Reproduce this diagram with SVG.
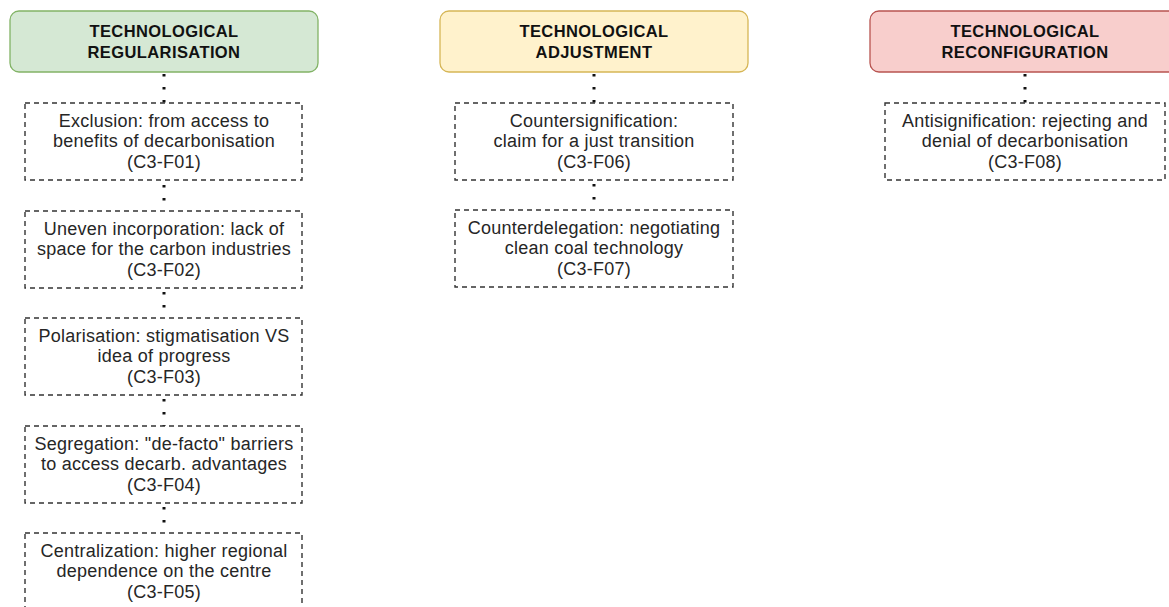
<svg xmlns="http://www.w3.org/2000/svg" width="1169" height="607" viewBox="0 0 1169 607">
  <style>
    .hdr { stroke-width: 1.3; }
    .hdr-green { fill: #d5e8d4; stroke: #82b366; }
    .hdr-yellow { fill: #fff2cc; stroke: #d6b656; }
    .hdr-red { fill: #f8cecc; stroke: #b85450; }
    .hdr-text { font-family: "Liberation Sans", Arial, sans-serif; font-size: 16.5px; font-weight: bold; fill: #111; text-anchor: middle; letter-spacing: 0.4px; }
    .item { fill: #ffffff; stroke: #333; stroke-width: 1.4; stroke-dasharray: 5 4; }
    .item-text { font-family: "Liberation Sans", Arial, sans-serif; font-size: 18px; fill: #262626; text-anchor: middle; letter-spacing: 0.25px; }
    .link { fill: none; stroke: #111; stroke-width: 3; stroke-dasharray: 2.5 10.5; }
  </style>
  <rect width="1169" height="607" fill="#ffffff"/>

  <!-- dotted connectors -->
  <g id="connectors">
    <path class="link" d="M164 74 V103"/>
    <path class="link" d="M164 185 V211"/>
    <path class="link" d="M164 292 V318"/>
    <path class="link" d="M164 399 V426"/>
    <path class="link" d="M164 507 V533"/>
    <path class="link" d="M594 74 V103"/>
    <path class="link" d="M594 184 V210"/>
    <path class="link" d="M1025 74 V103"/>
  </g>

  <!-- column headers -->
  <g id="hdr-regularisation">
    <rect class="hdr hdr-green" x="10" y="11" width="308" height="61" rx="9"/>
    <text class="hdr-text" x="164" y="37">TECHNOLOGICAL</text>
    <text class="hdr-text" x="164" y="58">REGULARISATION</text>
  </g>
  <g id="hdr-adjustment">
    <rect class="hdr hdr-yellow" x="440" y="11" width="308" height="61" rx="9"/>
    <text class="hdr-text" x="594" y="37">TECHNOLOGICAL</text>
    <text class="hdr-text" x="594" y="58">ADJUSTMENT</text>
  </g>
  <g id="hdr-reconfiguration">
    <rect class="hdr hdr-red" x="870" y="11" width="308" height="61" rx="9"/>
    <text class="hdr-text" x="1025" y="37">TECHNOLOGICAL</text>
    <text class="hdr-text" x="1025" y="58">RECONFIGURATION</text>
  </g>

  <!-- regularisation items -->
  <g id="c3-f01">
    <rect class="item" x="25" y="103" width="277" height="77"/>
    <text class="item-text" x="164" y="126.5">Exclusion: from access to</text>
    <text class="item-text" x="164" y="147">benefits of decarbonisation</text>
    <text class="item-text" x="164" y="167.5">(C3-F01)</text>
  </g>
  <g id="c3-f02">
    <rect class="item" x="25" y="211" width="277" height="77"/>
    <text class="item-text" x="164" y="234.5">Uneven incorporation: lack of</text>
    <text class="item-text" x="164" y="255">space for the carbon industries</text>
    <text class="item-text" x="164" y="275.5">(C3-F02)</text>
  </g>
  <g id="c3-f03">
    <rect class="item" x="25" y="318" width="277" height="77"/>
    <text class="item-text" x="164" y="341.5">Polarisation: stigmatisation VS</text>
    <text class="item-text" x="164" y="362">idea of progress</text>
    <text class="item-text" x="164" y="382.5">(C3-F03)</text>
  </g>
  <g id="c3-f04">
    <rect class="item" x="25" y="426" width="277" height="77"/>
    <text class="item-text" x="164" y="449.5">Segregation: "de-facto" barriers</text>
    <text class="item-text" x="164" y="470">to access decarb. advantages</text>
    <text class="item-text" x="164" y="490.5">(C3-F04)</text>
  </g>
  <g id="c3-f05">
    <rect class="item" x="25" y="533" width="277" height="77"/>
    <text class="item-text" x="164" y="556.5">Centralization: higher regional</text>
    <text class="item-text" x="164" y="577">dependence on the centre</text>
    <text class="item-text" x="164" y="597.5">(C3-F05)</text>
  </g>

  <!-- adjustment items -->
  <g id="c3-f06">
    <rect class="item" x="455" y="103" width="278" height="77"/>
    <text class="item-text" x="594" y="126.5">Countersignification:</text>
    <text class="item-text" x="594" y="147">claim for a just transition</text>
    <text class="item-text" x="594" y="167.5">(C3-F06)</text>
  </g>
  <g id="c3-f07">
    <rect class="item" x="455" y="210" width="278" height="77"/>
    <text class="item-text" x="594" y="233.5">Counterdelegation: negotiating</text>
    <text class="item-text" x="594" y="254">clean coal technology</text>
    <text class="item-text" x="594" y="274.5">(C3-F07)</text>
  </g>

  <!-- reconfiguration item -->
  <g id="c3-f08">
    <rect class="item" x="885" y="103" width="280" height="77"/>
    <text class="item-text" x="1025" y="126.5">Antisignification: rejecting and</text>
    <text class="item-text" x="1025" y="147">denial of decarbonisation</text>
    <text class="item-text" x="1025" y="167.5">(C3-F08)</text>
  </g>
</svg>
